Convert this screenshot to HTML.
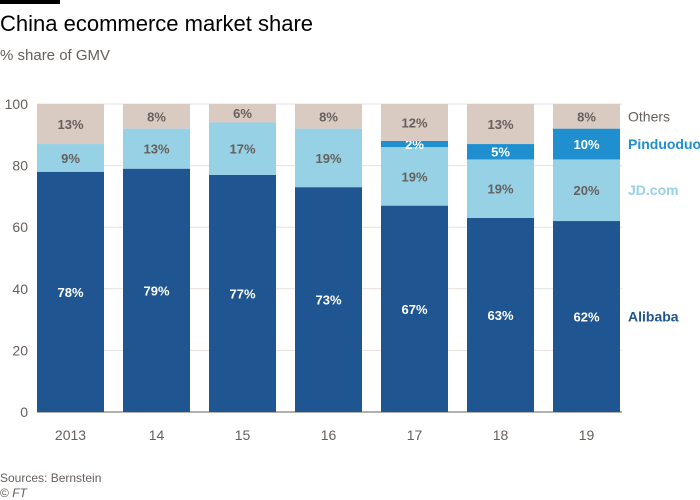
<!DOCTYPE html>
<html><head><meta charset="utf-8"><style>
body{margin:0;background:#fff;font-family:"Liberation Sans",sans-serif;}
#wrap{position:relative;width:700px;height:500px;overflow:hidden;}
</style></head><body>
<div id="wrap">
<div style="position:absolute;left:0;top:0;width:60px;height:4px;background:#000"></div>
<div style="position:absolute;left:0;top:11px;font-size:22px;color:#000">China ecommerce market share</div>
<div style="position:absolute;left:0;top:47px;font-size:15px;color:#66605c">% share of GMV</div>
<svg id="chart" width="700" height="500" style="position:absolute;left:0;top:0"></svg>
<div style="position:absolute;left:0;top:471px;font-size:12px;color:#66605c">Sources: Bernstein</div>
<div style="position:absolute;left:0;top:486px;font-size:12px;color:#66605c">© <i>FT</i></div>
</div>
<script>
const categories=["2013","14","15","16","17","18","19"];
const alibaba=[78,79,77,73,67,63,62];
const jd=[9,13,17,19,19,19,20];
const pinduoduo=[0,0,0,0,2,5,10];
const others=[13,8,6,8,12,13,8];
const yTicks=[0,20,40,60,80,100];
const seriesNames=["Alibaba","JD.com","Pinduoduo","Others"];

const svg=document.getElementById('chart');
const NS='http://www.w3.org/2000/svg';
const y0=412,y1=104,x0=37,step=86,bw=67,plotRight=622;
const y=v=>y0-(v/100)*(y0-y1);
const x=i=>x0+i*step;
function mk(t,a){const e=document.createElementNS(NS,t);for(const k in a)e.setAttribute(k,a[k]);svg.appendChild(e);return e;}
yTicks.forEach(t=>{
  const l=mk('line',{x1:37,x2:plotRight,y1:y(t),y2:y(t),stroke:t===0?'#66605c':'#e9e1db','stroke-width':1});
  
  
  const tx=mk('text',{x:28,y:y(t)+5,'text-anchor':'end','font-size':14,fill:'#66605c'});
  tx.textContent=t;
  
  
});
const series=[alibaba,jd,pinduoduo,others];
const colors=['#1f5692','#96d1e6','#1f8fd0','#d9cbc2'];
const textColors=['#fff','#66605c','#fff','#66605c'];
categories.forEach((c,i)=>{
  let base=0;
  series.forEach((s,k)=>{
    const v=s[i];
    if(v>0){
      const r=mk('rect',{x:x(i),y:y(base+v),width:bw,height:y(base)-y(base+v),fill:colors[k]});
      
      
      const t=mk('text',{x:x(i)+bw/2,y:y(base+v/2)+5,'text-anchor':'middle','font-size':13,'font-weight':'bold',fill:textColors[k]});
      t.textContent=v+'%';
      
      
    }
    base+=v;
  });
  const xl=mk('text',{x:x(i)+bw/2,y:y0+28,'text-anchor':'middle','font-size':14,fill:'#66605c'});
  xl.textContent=c;
  
  
});
// direct labels at last bar
const last=categories.length-1;
const labColors=['#1f5692','#96d1e6','#1f8fd0','#66605c'];
let b=0;
series.forEach((s,k)=>{
  const v=s[last];
  const t=mk('text',{x:628,y:y(b+v/2)+5,'font-size':14,fill:labColors[k],'font-weight':k===3?'normal':'bold'});
  t.textContent=seriesNames[k];
  
  
  b+=v;
});
</script>
</body></html>
